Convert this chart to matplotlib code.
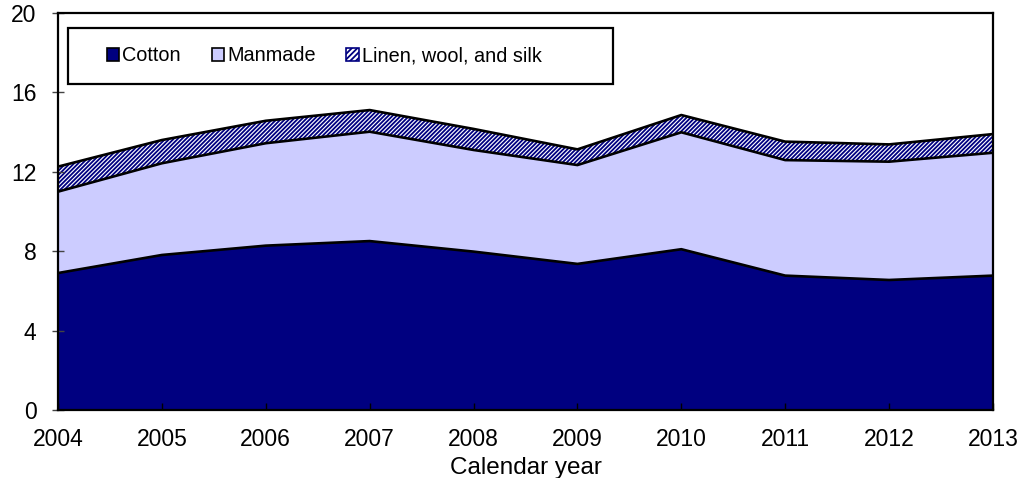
import matplotlib
matplotlib.use("Agg")
import matplotlib.pyplot as plt
from matplotlib.patches import Patch, Rectangle
import numpy as np

years = [2004, 2005, 2006, 2007, 2008, 2009, 2010, 2011, 2012, 2013]
cotton = [6.90, 7.81, 8.28, 8.51, 7.98, 7.36, 8.10, 6.77, 6.55, 6.77]
manmade = [4.10, 4.62, 5.16, 5.51, 5.12, 4.98, 5.89, 5.82, 5.96, 6.19]
linen = [1.26, 1.17, 1.13, 1.09, 1.06, 0.79, 0.87, 0.93, 0.87, 0.94]
series_names = ["Cotton", "Manmade", "Linen, wool, and silk"]
yticks = [0, 4, 8, 12, 16, 20]

plt.rcParams['font.family'] = ['Liberation Sans', 'DejaVu Sans']
plt.rcParams['hatch.linewidth'] = 1.3

navy = "#000080"
lav = "#CCCCFF"

fig = plt.figure(figsize=(10.31, 4.78), dpi=100)
ax = fig.add_axes([58/1031, 68/478, 935/1031, 397/478])

x = np.array(years)
c = np.array(cotton)
m = c + np.array(manmade)
t = m + np.array(linen)

ax.fill_between(x, 0, c, facecolor=navy, edgecolor='none', zorder=1)
ax.fill_between(x, c, m, facecolor=lav, edgecolor='none', zorder=1)
ax.fill_between(x, m, t, facecolor='white', edgecolor=navy, hatch='////////', linewidth=0, zorder=1)
for arr in (c, m, t):
    ax.plot(x, arr, color='black', lw=1.9, zorder=2)

ax.set_xlim(2004, 2013)
ax.set_ylim(0, 20)
ax.set_xticks(years)
ax.set_yticks(yticks)
ax.tick_params(axis='x', direction='in', length=5, width=1, pad=13, labelsize=16.5, color='black')
ax.tick_params(axis='y', direction='inout', length=9, width=1, pad=11, labelsize=16.5, color='#444444')
for s in ax.spines.values():
    s.set_linewidth(1.6)
    s.set_zorder(3)
ax.set_xlabel("Calendar year", fontsize=17.5, labelpad=4)

# legend frame
ax.add_patch(Rectangle((10/935, 326/397), 545/935, 56/397, transform=ax.transAxes,
                       facecolor='white', edgecolor='black', linewidth=1.6, zorder=4))

handles = [
    Patch(facecolor=navy, edgecolor='black', linewidth=1.2),
    Patch(facecolor=lav, edgecolor='black', linewidth=1.2),
    Patch(facecolor='white', edgecolor=navy, hatch='//////', linewidth=1.2),
]
leg = ax.legend(handles, series_names, loc='center left', ncol=3,
                bbox_to_anchor=(49/935, 354/397), fontsize=14.3, frameon=False,
                handlelength=0.62, handleheight=0.62,
                handletextpad=0.15, columnspacing=1.55, borderpad=0, borderaxespad=0)
leg.set_zorder(5)
fig.savefig("out.png", dpi=100)
